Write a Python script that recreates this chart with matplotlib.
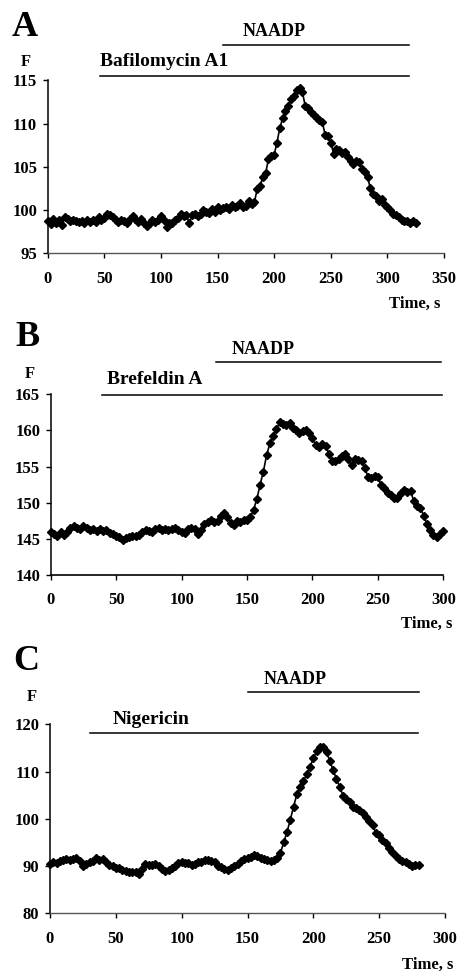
"""
Three NAADP fluorescence traces (A: Bafilomycin A1, B: Brefeldin A, C: Nigericin).
Writes out.png at 459x975 px.
"""

import numpy as np
import matplotlib
matplotlib.use("Agg")
import matplotlib.pyplot as plt
from matplotlib.transforms import blended_transform_factory


# ── Data ──────────────────────────────────────────────────────────────────────

DT = 2.5  # sampling step, s

F_A = [
    98.7, 98.4, 99.0, 98.5, 98.9, 98.3, 99.2, 99.0, 98.7, 98.8,
    98.7, 98.6, 98.7, 98.5, 98.9, 98.6, 98.8, 98.6, 99.2, 98.9,
    99.1, 99.5, 99.4, 99.2, 98.9, 98.6, 98.9, 98.7, 98.5, 99.0,
    99.3, 99.0, 98.6, 99.0, 98.5, 98.2, 98.5, 98.9, 98.6, 98.9,
    99.3, 98.9, 98.0, 98.5, 98.5, 98.8, 99.1, 99.5, 99.3, 99.4,
    98.5, 99.4, 99.6, 99.3, 99.6, 100.0, 99.8, 99.7, 100.1, 99.8,
    100.3, 100.0, 100.2, 100.4, 100.1, 100.6, 100.3, 100.5, 100.8, 100.3,
    100.5, 101.0, 100.7, 100.9, 102.4, 102.8, 103.8, 104.3, 105.9, 106.2,
    106.4, 107.8, 109.5, 110.6, 111.4, 112.0, 112.8, 113.2, 113.9, 114.1,
    113.6, 112.0, 111.8, 111.3, 111.0, 110.6, 110.4, 110.2, 108.7, 108.6,
    107.8, 106.5, 107.1, 106.9, 106.6, 106.7, 106.1, 105.7, 105.3, 105.7,
    105.5, 104.8, 104.4, 103.8, 102.5, 101.8, 101.6, 101.0, 101.3, 100.6,
    100.4, 100.0, 99.6, 99.4, 99.2, 98.8, 98.7, 98.7, 98.5, 98.7,
    98.5,
]

F_B = [
    146.0, 145.7, 145.4, 146.0, 145.6, 145.9, 146.5, 146.8, 146.5, 146.4,
    146.8, 146.5, 146.2, 146.4, 146.1, 146.3, 146.1, 146.2, 145.8, 145.7,
    145.4, 145.2, 144.9, 145.1, 145.3, 145.4, 145.4, 145.6, 145.9, 146.2,
    146.1, 145.9, 146.3, 146.5, 146.2, 146.4, 146.2, 146.3, 146.5, 146.2,
    145.9, 145.8, 146.4, 146.5, 146.4, 145.7, 146.2, 147.1, 147.4, 147.6,
    147.3, 147.5, 148.2, 148.6, 148.0, 147.2, 146.9, 147.5, 147.4, 147.6,
    147.6, 148.0, 149.0, 150.5, 152.5, 154.3, 156.6, 158.2, 159.2, 160.2,
    161.1, 160.9, 160.7, 161.0, 160.3, 160.0, 159.6, 159.9, 160.0, 159.6,
    158.9, 158.0, 157.7, 158.1, 157.9, 156.8, 155.8, 155.8, 156.0, 156.5,
    156.8, 156.0, 155.2, 156.0, 155.9, 155.8, 154.8, 153.6, 153.4, 153.7,
    153.6, 152.4, 152.0, 151.3, 151.0, 150.6, 150.6, 151.3, 151.7, 151.5,
    151.6, 150.2, 149.6, 149.3, 148.2, 147.0, 146.2, 145.6, 145.3, 145.7,
    146.1,
]

F_C = [
    90.5, 90.8, 90.6, 91.0, 91.3, 91.4, 91.3, 91.5, 91.6, 91.0,
    90.0, 90.4, 90.9, 91.1, 91.6, 91.2, 91.4, 90.8, 90.3, 90.0,
    89.5, 89.6, 89.1, 88.9, 88.8, 88.7, 88.7, 88.4, 89.4, 90.5,
    90.3, 90.2, 90.4, 90.0, 89.3, 88.9, 89.2, 89.5, 90.0, 90.6,
    90.9, 90.6, 90.7, 90.2, 90.5, 90.9, 90.8, 91.2, 91.2, 91.0,
    90.8, 90.1, 89.7, 89.3, 89.1, 89.5, 90.0, 90.4, 91.0, 91.5,
    91.8, 92.0, 92.3, 92.1, 91.8, 91.5, 91.2, 91.1, 91.2, 91.8,
    92.8, 95.0, 97.2, 99.8, 102.6, 105.2, 106.7, 108.0, 109.4, 111.0,
    112.8, 114.3, 115.2, 115.1, 114.1, 112.3, 110.3, 108.5, 106.8, 104.9,
    104.1, 103.5, 102.6, 102.2, 101.8, 101.3, 100.4, 99.6, 98.6, 97.0,
    96.6, 95.6, 94.8, 93.9, 93.0, 92.2, 91.5, 91.0, 90.9, 90.4,
    90.1, 90.3, 90.2,
]

# treatment intervals (s)
NAADP_A = (154.5, 319.5)
DRUG_A = (46, 319.5)
NAADP_B = (126, 298)
DRUG_B = (39, 299)
NAADP_C = (150.5, 280)
DRUG_C = (30.5, 279.5)

DRUG_NAMES = ["Bafilomycin A1", "Brefeldin A", "Nigericin"]
LETTERS = ["A", "B", "C"]

XTICKS = [list(range(0, 351, 50)), list(range(0, 301, 50)), list(range(0, 301, 50))]
YTICKS = [list(range(95, 116, 5)), list(range(140, 166, 5)), list(range(80, 121, 10))]


# ── Layout (pixels of the 459x975 canvas) ─────────────────────────────────────

W, H = 459, 975
FONT = "Liberation Serif"

LAYOUT = [
    # axes (x0, y0, x1, y1), letter, F label, time label, naadp text, drug text, bar ys
    dict(box=(47.7, 80.3, 444, 253.3), letter=(25, 28), f=(26, 62), time=(440, 304),
         naadp=(274, 31), drug=(100, 62), bars=(45, 76), dotted=True),
    dict(box=(50.7, 394.3, 443.3, 575), letter=(27.5, 338), f=(30, 374), time=(452, 624),
         naadp=(263, 349), drug=(107, 380), bars=(361.7, 395), dotted=False),
    dict(box=(50, 724.3, 445, 913.3), letter=(26.5, 662), f=(32, 697), time=(453, 965),
         naadp=(295, 680), drug=(113, 720), bars=(692.3, 733.3), dotted=True),
]


def px(x, y):
    return x / W, 1 - y / H


def draw_panel(fig, lay, values, xticks, yticks, naadp, drug, name, letter):
    x0, y0, x1, y1 = lay["box"]
    ax = fig.add_axes([x0 / W, 1 - y1 / H, (x1 - x0) / W, (y1 - y0) / H])

    t = np.arange(len(values)) * DT
    ax.plot(t, values, color="black", lw=1.2, marker="D", ms=3.6,
            mec="black", mfc="black", clip_on=False)

    ax.set_xlim(xticks[0], xticks[-1])
    ax.set_ylim(yticks[0], yticks[-1])
    ax.set_xticks(xticks)
    ax.set_yticks(yticks)
    ax.tick_params(direction="out", length=3.6, width=1.0, labelsize=12, colors="black")
    ax.tick_params(axis="x", pad=9)
    ax.tick_params(axis="y", pad=4)
    for lab in ax.get_xticklabels() + ax.get_yticklabels():
        lab.set_fontweight("bold")
        lab.set_family(FONT)

    for side in ("top", "right"):
        ax.spines[side].set_visible(False)
    ax.spines["left"].set_linewidth(1.1)
    if lay["dotted"]:
        ax.spines["bottom"].set_linewidth(1.0)
        ax.spines["bottom"].set_linestyle((0, (1.5, 1)))
        ax.spines["bottom"].set_color("#555555")
    else:
        ax.spines["bottom"].set_linewidth(1.2)

    # treatment bars: x in data, y in figure fraction
    trans = blended_transform_factory(ax.transData, fig.transFigure)
    for (ta, tb), ypx in zip((naadp, drug), lay["bars"]):
        yf = 1 - ypx / H
        ax.plot([ta, tb], [yf, yf], transform=trans, color="black", lw=1.1, clip_on=False)

    kw = dict(family=FONT, fontweight="bold", color="black")
    fig.text(*px(*lay["naadp"]), "NAADP", ha="center", va="center", fontsize=13, **kw)
    fig.text(*px(*lay["drug"]), name, ha="left", va="center", fontsize=14, **kw)
    fig.text(*px(*lay["letter"]), letter, ha="center", va="center", fontsize=26, **kw)
    fig.text(*px(*lay["f"]), "F", ha="center", va="center", fontsize=12, **kw)
    fig.text(*px(*lay["time"]), "Time, s", ha="right", va="center", fontsize=12, **kw)
    return ax


def main():
    fig = plt.figure(figsize=(W / 100, H / 100), dpi=100)
    series = [F_A, F_B, F_C]
    naadps = [NAADP_A, NAADP_B, NAADP_C]
    drugs = [DRUG_A, DRUG_B, DRUG_C]
    for i in range(3):
        draw_panel(fig, LAYOUT[i], series[i], XTICKS[i], YTICKS[i],
                   naadps[i], drugs[i], DRUG_NAMES[i], LETTERS[i])
    fig.savefig("out.png", dpi=100)


if __name__ == "__main__":
    main()
